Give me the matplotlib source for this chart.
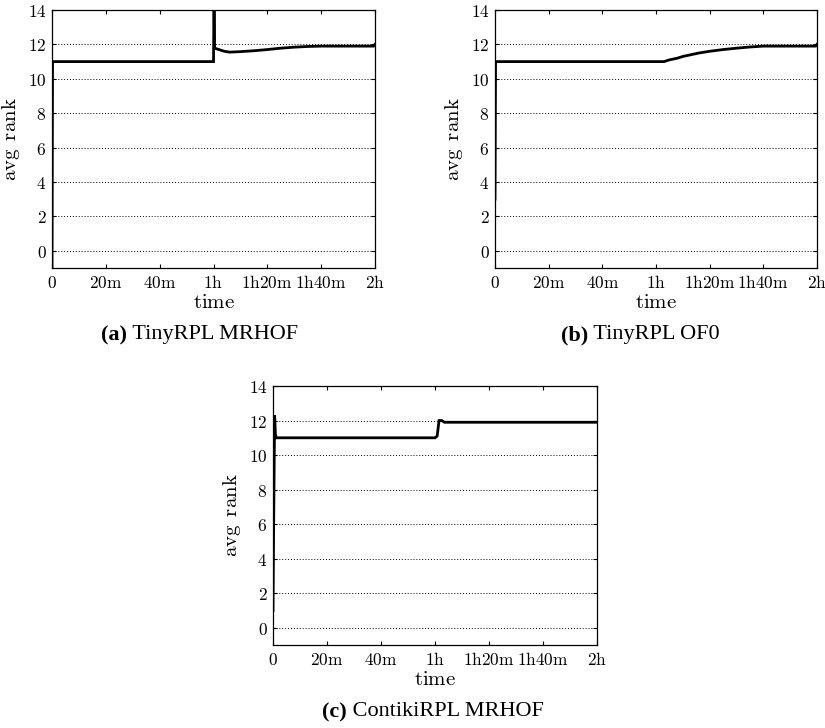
import matplotlib.pyplot as plt

plt.rcParams['mathtext.fontset'] = 'cm'
plt.rcParams['axes.formatter.use_mathtext'] = True

# time in minutes, avg rank values
time_a = [0, 0.2, 0.3, 60, 60.2, 60.4, 61, 62, 64, 66, 70, 75, 80, 85, 90, 95, 100, 110, 119.5, 120]
rank_a = [-1, 11, 11, 11, 14.5, 11.8, 11.75, 11.7, 11.6, 11.55, 11.58, 11.63, 11.7, 11.78, 11.84, 11.88, 11.9, 11.9, 11.9, 12.0]

time_b = [0, 0.2, 0.4, 63, 65, 68, 70, 73, 76, 80, 85, 90, 95, 100, 110, 119.5, 120]
rank_b = [3, 10.9, 11, 11, 11.1, 11.2, 11.3, 11.4, 11.5, 11.6, 11.7, 11.78, 11.85, 11.9, 11.9, 11.9, 12.0]

time_c = [0, 0.3, 0.6, 0.9, 1.2, 60, 60.8, 61.5, 62.5, 63.5, 120]
rank_c = [1, 7, 12.3, 11.2, 11, 11, 11.1, 12.0, 12.0, 11.9, 11.9]

xticks = [0, 20, 40, 60, 80, 100, 120]
xticklabels = ['0', '20m', '40m', '1h', '1h20m', '1h40m', '2h']
yticks = [0, 2, 4, 6, 8, 10, 12, 14]


def cm(s):
    return r'$\mathrm{' + s.replace(' ', r'\ \,') + '}$'


panels = [
    (time_a, rank_a, [52, 268, 323, 258], '(a)', 'TinyRPL MRHOF', 200, 335),
    (time_b, rank_b, [495, 268, 322, 258], '(b)', 'TinyRPL OF0', 640, 335),
    (time_c, rank_c, [273, 645, 324, 259], '(c)', 'ContikiRPL MRHOF', 433, 712),
]

W, H = 825, 728
fig = plt.figure(figsize=(W / 100, H / 100), dpi=100)
renderer = fig.canvas.get_renderer()

for t, r, (l, b, w, h), tag, name, cx, cy in panels:
    ax = fig.add_axes([l / W, 1 - b / H, w / W, h / H])
    ax.plot(t, r, color='black', lw=2, solid_joinstyle='miter')
    ax.set_xlim(0, 120)
    ax.set_ylim(-1, 14)
    ax.set_xticks(xticks)
    ax.set_xticklabels([cm(s) for s in xticklabels])
    ax.set_yticks(yticks)
    ax.set_yticklabels([cm(str(v)) for v in yticks])
    ax.yaxis.grid(True, linestyle=(0, (1, 2)), color='black', lw=0.7)
    ax.tick_params(direction='in', top=True, right=True, labelsize=12.5, length=3, pad=4)
    for s in ax.spines.values():
        s.set_linewidth(0.9)
    ax.set_xlabel(cm('time'), fontsize=15, labelpad=0)
    ax.set_ylabel(cm('avg rank'), fontsize=15, labelpad=4)

    # caption: bold tag followed by plain name, centred as a whole
    t1 = fig.text(0, 1 - cy / H, tag, family='Liberation Serif', weight='bold',
                  fontsize=16, ha='left', va='center')
    t2 = fig.text(0, 1 - cy / H, ' ' + name, family='Liberation Serif',
                  fontsize=16, ha='left', va='center')
    w1 = t1.get_window_extent(renderer).width
    w2 = t2.get_window_extent(renderer).width
    x0 = cx - (w1 + w2) / 2
    t1.set_x(x0 / W)
    t2.set_x((x0 + w1) / W)

fig.savefig('out.png', dpi=100)
